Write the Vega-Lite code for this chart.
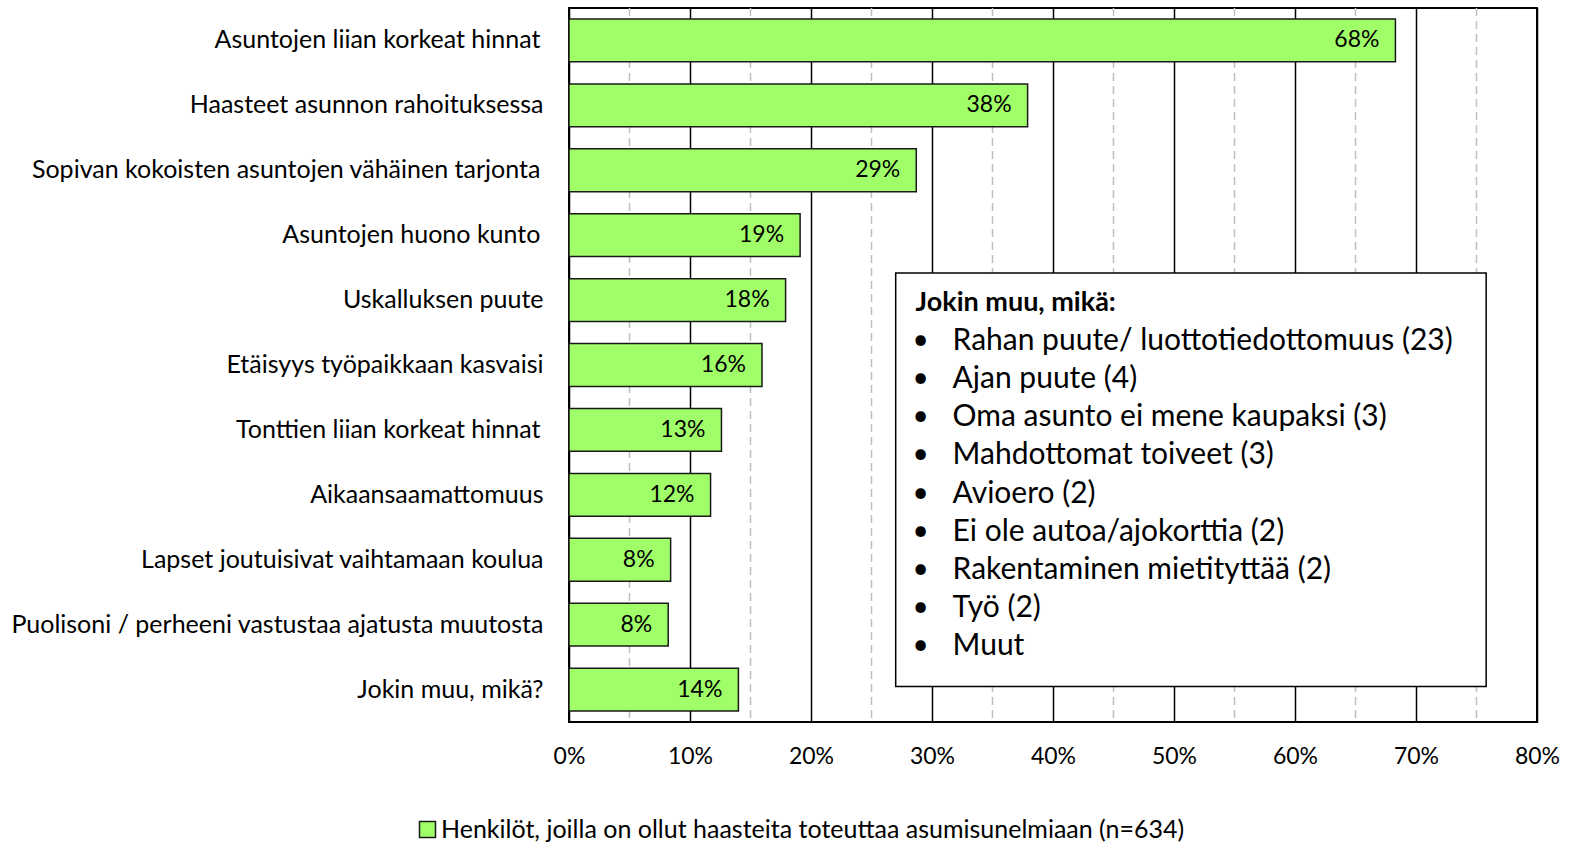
{
  "$schema": "https://vega.github.io/schema/vega-lite/v6.json",
  "width": 968,
  "height": 714,
  "autosize": {"type": "none"},
  "padding": {"left": 569, "top": 8, "right": 37, "bottom": 120},
  "background": "white",
  "config": {
    "font": "Lato",
    "view": {"stroke": "black", "strokeWidth": 2},
    "axisX": {
      "grid": true,
      "gridColor": "black",
      "gridWidth": 1.5,
      "gridOpacity": 1,
      "domain": false,
      "ticks": false,
      "tickCount": 8,
      "labelExpr": "datum.value + '%'",
      "labelFontSize": 23,
      "labelColor": "black",
      "labelBaseline": "middle",
      "labelPadding": 34,
      "labelFlush": false,
      "title": null
    }
  },
  "datasets": {
    "bars": [
      {"cat": "Asuntojen liian korkeat hinnat\u2009\u2060", "v": 68.3, "label": "68%", "series": "Henkilöt, joilla on ollut haasteita toteuttaa asumisunelmiaan (n=634)"},
      {"cat": "Haasteet asunnon rahoituksessa", "v": 37.9, "label": "38%", "series": "Henkilöt, joilla on ollut haasteita toteuttaa asumisunelmiaan (n=634)"},
      {"cat": "Sopivan kokoisten asuntojen vähäinen tarjonta\u2009\u2060", "v": 28.7, "label": "29%", "series": "Henkilöt, joilla on ollut haasteita toteuttaa asumisunelmiaan (n=634)"},
      {"cat": "Asuntojen huono kunto\u2009\u2060", "v": 19.1, "label": "19%", "series": "Henkilöt, joilla on ollut haasteita toteuttaa asumisunelmiaan (n=634)"},
      {"cat": "Uskalluksen puute", "v": 17.9, "label": "18%", "series": "Henkilöt, joilla on ollut haasteita toteuttaa asumisunelmiaan (n=634)"},
      {"cat": "Etäisyys työpaikkaan kasvaisi", "v": 15.95, "label": "16%", "series": "Henkilöt, joilla on ollut haasteita toteuttaa asumisunelmiaan (n=634)"},
      {"cat": "Tonttien liian korkeat hinnat\u2009\u2060", "v": 12.6, "label": "13%", "series": "Henkilöt, joilla on ollut haasteita toteuttaa asumisunelmiaan (n=634)"},
      {"cat": "Aikaansaamattomuus", "v": 11.7, "label": "12%", "series": "Henkilöt, joilla on ollut haasteita toteuttaa asumisunelmiaan (n=634)"},
      {"cat": "Lapset joutuisivat vaihtamaan koulua", "v": 8.4, "label": "8%", "series": "Henkilöt, joilla on ollut haasteita toteuttaa asumisunelmiaan (n=634)"},
      {"cat": "Puolisoni / perheeni vastustaa ajatusta muutosta", "v": 8.2, "label": "8%", "series": "Henkilöt, joilla on ollut haasteita toteuttaa asumisunelmiaan (n=634)"},
      {"cat": "Jokin muu, mikä?", "v": 14.0, "label": "14%", "series": "Henkilöt, joilla on ollut haasteita toteuttaa asumisunelmiaan (n=634)"}
    ],
    "minor": [{"v": 5}, {"v": 15}, {"v": 25}, {"v": 35}, {"v": 45}, {"v": 55}, {"v": 65}, {"v": 75}],
    "box": [{"x1": 27.0, "x2": 75.8, "r1": -0.78, "r2": 10.06}],
    "note": [
      {"row": 0, "t": "Jokin muu, mikä:", "kind": "title"},
      {"row": 1, "t": "Rahan puute/ luottotiedottomuus (23)", "kind": "item"},
      {"row": 2, "t": "Ajan puute (4)", "kind": "item"},
      {"row": 3, "t": "Oma asunto ei mene kaupaksi (3)", "kind": "item"},
      {"row": 4, "t": "Mahdottomat toiveet (3)", "kind": "item"},
      {"row": 5, "t": "Avioero (2)", "kind": "item"},
      {"row": 6, "t": "Ei ole autoa/ajokorttia (2)", "kind": "item"},
      {"row": 7, "t": "Rakentaminen mietityttää (2)", "kind": "item"},
      {"row": 8, "t": "Työ (2)", "kind": "item"},
      {"row": 9, "t": "Muut", "kind": "item"}
    ]
  },
  "layer": [
    {
      "data": {"name": "minor"},
      "mark": {"type": "rule", "color": "#BFBFBF", "strokeWidth": 1.5, "strokeDash": [8, 5]},
      "encoding": {
        "x": {"field": "v", "type": "quantitative", "scale": {"domain": [0, 80], "nice": false}, "title": null}
      }
    },
    {
      "layer": [
        {
          "data": {"name": "bars"},
          "mark": {"type": "bar", "stroke": "#1a1a1a", "strokeWidth": 1.5},
          "encoding": {
            "y": {
              "field": "cat", "type": "nominal", "sort": null,
              "scale": {"paddingInner": 0.34, "paddingOuter": 0.17},
              "axis": {"title": null, "domain": false, "ticks": false, "labelFontSize": 25, "labelColor": "black", "labelPadding": 26, "labelLimit": 0}
            },
            "x": {"field": "v", "type": "quantitative", "scale": {"domain": [0, 80], "nice": false}, "title": null},
            "color": {
              "field": "series", "type": "nominal",
              "scale": {"range": ["#A0FF68"]},
              "legend": {
                "orient": "none", "legendX": -154, "legendY": 809, "title": null,
                "symbolType": "square", "symbolSize": 256, "symbolStrokeColor": "#1a1a1a", "symbolStrokeWidth": 1.5,
                "labelFontSize": 25, "labelColor": "black", "labelLimit": 0, "labelOffset": 1, "padding": 0
              }
            }
          }
        },
        {
          "data": {"name": "bars"},
          "mark": {"type": "text", "align": "right", "baseline": "middle", "dx": -16, "fontSize": 23, "color": "black"},
          "encoding": {
            "y": {"field": "cat", "type": "nominal", "sort": null},
            "x": {"field": "v", "type": "quantitative", "title": null},
            "text": {"field": "label"}
          }
        }
      ]
    },
    {
      "layer": [
        {
          "data": {"name": "box"},
          "mark": {"type": "rect", "fill": "white", "stroke": "black", "strokeWidth": 1.5},
          "encoding": {
            "x": {"field": "x1", "type": "quantitative", "title": null},
            "x2": {"field": "x2"},
            "y": {"field": "r1", "type": "quantitative", "scale": {"domain": [-7.73, 10.99], "reverse": true, "nice": false, "zero": false}, "axis": null},
            "y2": {"field": "r2"}
          }
        },
        {
          "data": {"name": "note"},
          "transform": [{"filter": "datum.kind == 'title'"}],
          "mark": {"type": "text", "align": "left", "baseline": "middle", "fontSize": 27, "fontWeight": "bold", "color": "black"},
          "encoding": {
            "x": {"datum": 28.64, "type": "quantitative"},
            "y": {"field": "row", "type": "quantitative", "axis": null},
            "text": {"field": "t"}
          }
        },
        {
          "data": {"name": "note"},
          "transform": [{"filter": "datum.kind == 'item'"}],
          "mark": {"type": "text", "align": "center", "baseline": "middle", "fontSize": 28, "color": "black"},
          "encoding": {
            "x": {"datum": 29.05, "type": "quantitative"},
            "y": {"field": "row", "type": "quantitative", "axis": null},
            "text": {"value": "•"}
          }
        },
        {
          "data": {"name": "note"},
          "transform": [{"filter": "datum.kind == 'item'"}],
          "mark": {"type": "text", "align": "left", "baseline": "middle", "fontSize": 30, "color": "black"},
          "encoding": {
            "x": {"datum": 31.7, "type": "quantitative"},
            "y": {"field": "row", "type": "quantitative", "axis": null},
            "text": {"field": "t"}
          }
        }
      ]
    }
  ],
  "resolve": {"scale": {"y": "independent"}, "axis": {"y": "independent"}}
}
